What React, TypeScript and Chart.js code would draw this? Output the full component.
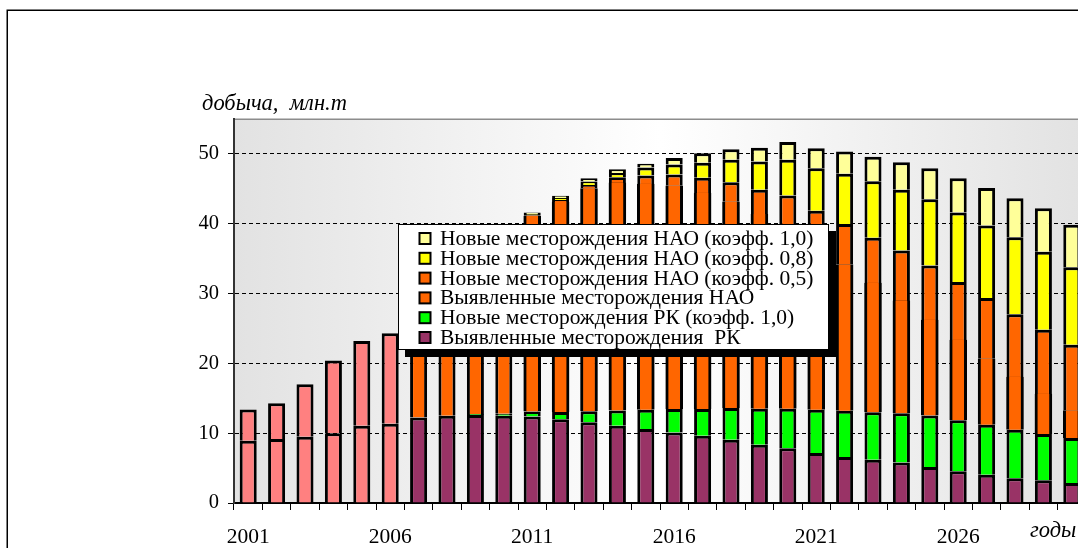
import { useEffect, useRef } from 'react';
import { Chart, registerables } from 'chart.js';

Chart.register(...registerables);

// ---------- data ----------
const years = [
  '2001', '2002', '2003', '2004', '2005', '2006', '2007', '2008', '2009', '2010',
  '2011', '2012', '2013', '2014', '2015', '2016', '2017', '2018', '2019', '2020',
  '2021', '2022', '2023', '2024', '2025', '2026', '2027', '2028', '2029', '2030',
];
const lastHistoricYear = '2006';

// Выявленные месторождения РК
const rkFound = [
  8.9, 9.15, 9.5, 10.0, 11.05, 11.35, 12.25, 12.5, 12.6, 12.5,
  12.4, 12.0, 11.55, 11.05, 10.6, 10.1, 9.65, 9.05, 8.35, 7.85,
  7.15, 6.6, 6.2, 5.8, 5.15, 4.55, 4.05, 3.55, 3.25, 2.85,
];
// Новые месторождения РК (коэфф. 1,0)
const rkNew = [
  0, 0, 0, 0, 0, 0, 0, 0, 0.15, 0.3,
  0.7, 1.05, 1.6, 2.2, 2.75, 3.35, 3.8, 4.55, 5.15, 5.65,
  6.2, 6.6, 6.8, 7.05, 7.4, 7.3, 7.15, 6.95, 6.65, 6.45,
];
// Выявленные месторождения НАО
const naoFound = [
  4.5, 5.15, 7.5, 10.4, 12.15, 12.95, 15.25, 18.3, 21.45, 25.0,
  28.0, 30.05, 31.9, 32.6, 32.35, 32.0, 30.95, 29.55, 27.85, 26.35,
  23.5, 20.95, 18.5, 16.1, 13.65, 11.5, 9.45, 7.55, 5.7, 3.95,
];
// Новые месторождения НАО (коэфф. 0,5)
const naoNew05 = [
  0, 0, 0, 0, 0, 0, 0, 0, 0, 0,
  0.1, 0.3, 0.5, 0.8, 1.2, 1.6, 2.2, 2.8, 3.5, 4.2,
  5.0, 5.8, 6.5, 7.2, 7.8, 8.3, 8.7, 9.0, 9.2, 9.4,
];
// Новые месторождения НАО (коэфф. 0,8)
const naoNew08 = [
  0, 0, 0, 0, 0, 0, 0, 0, 0, 0,
  0.2, 0.3, 0.5, 0.6, 1.15, 1.45, 2.15, 3.2, 4.05, 5.1,
  6.1, 7.2, 8.1, 8.7, 9.5, 9.95, 10.4, 11.0, 11.2, 11.1,
];
// Новые месторождения НАО (коэфф. 1,0)
const naoNew10 = [
  0, 0, 0, 0, 0, 0, 0, 0, 0, 0,
  0.2, 0.3, 0.45, 0.55, 0.55, 0.9, 1.35, 1.5, 2.0, 2.55,
  2.85, 3.2, 3.5, 3.95, 4.45, 4.9, 5.35, 5.6, 6.2, 6.1,
];

const yTickValues = [0, 10, 20, 30, 40, 50];
const yMax = 55;
const xLabelStep = 5;

const yTitle = 'добыча,  млн.т';
const xTitle = 'годы';

const seriesLabels = [
  'Выявленные месторождения  РК',
  'Новые месторождения РК (коэфф. 1,0)',
  'Выявленные месторождения НАО',
  'Новые месторождения НАО (коэфф. 0,5)',
  'Новые месторождения НАО (коэфф. 0,8)',
  'Новые месторождения НАО (коэфф. 1,0)',
];

// ---------- styles ----------
const COLORS = {
  purple: '#993366',
  green: '#00FF00',
  orange: '#FF6600',
  yellow: '#FFFF00',
  lightYellow: '#FFFF99',
  history: '#FF8080',
};
const SERIF = "'Liberation Serif', 'Times New Roman', serif";
const BW = 3;

const CANVAS_W = 1120;
const CANVAS_H = 560;
const AREA = { left: 234, top: 119, right: 1086, bottom: 503 };

const isHistory = (i: number) => Number(years[i]) <= Number(lastHistoricYear);

const legendColors = [
  COLORS.purple,
  COLORS.green,
  COLORS.orange,
  COLORS.orange,
  COLORS.yellow,
  COLORS.lightYellow,
];

const decorPlugin = {
  id: 'decor',
  beforeDraw(chart: any) {
    const { ctx, chartArea } = chart;
    ctx.save();
    ctx.fillStyle = '#ffffff';
    ctx.fillRect(0, 0, chart.width, chart.height);
    // outer frame
    ctx.strokeStyle = '#000';
    ctx.lineWidth = 1.5;
    ctx.strokeRect(7.25, 10.25, chart.width, chart.height);
    // plot background gradient
    const g = ctx.createLinearGradient(chartArea.left, 0, chartArea.right, 0);
    g.addColorStop(0, '#e2e2e2');
    g.addColorStop(0.5, '#ffffff');
    g.addColorStop(1, '#e2e2e2');
    ctx.fillStyle = g;
    ctx.fillRect(chartArea.left, chartArea.top, chartArea.right - chartArea.left, chartArea.bottom - chartArea.top);
    // plot top border
    ctx.strokeStyle = '#8c8c8c';
    ctx.lineWidth = 1.5;
    ctx.beginPath();
    ctx.moveTo(chartArea.left, chartArea.top + 0.25);
    ctx.lineTo(chartArea.right, chartArea.top + 0.25);
    ctx.stroke();
    ctx.restore();
  },
  afterDraw(chart: any) {
    const { ctx } = chart;
    ctx.save();
    // y title with white box
    ctx.font = `italic 22.5px ${SERIF}`;
    const tw = ctx.measureText(yTitle).width;
    ctx.fillStyle = '#fff';
    ctx.fillRect(198, 88, tw + 8, 30);
    ctx.fillStyle = '#000';
    ctx.textBaseline = 'alphabetic';
    ctx.textAlign = 'left';
    ctx.fillText(yTitle, 202, 110);
    // x title
    ctx.fillText(xTitle, 1030, 537);

    // legend box
    const lx = 398, ly = 224, lw = 431, lh = 126;
    ctx.fillStyle = '#000';
    ctx.fillRect(lx + 7, ly + 7, lw, lh);
    ctx.fillStyle = '#fff';
    ctx.fillRect(lx, ly, lw, lh);
    ctx.strokeStyle = '#000';
    ctx.lineWidth = 1;
    ctx.strokeRect(lx + 0.5, ly + 0.5, lw - 1, lh - 1);
    ctx.font = `21.5px ${SERIF}`;
    const ds = chart.data.datasets;
    for (let k = 0; k < ds.length; k++) {
      const idx = ds.length - 1 - k;
      const base = 245 + k * 19.8;
      ctx.fillStyle = '#000';
      ctx.fillRect(418.5, base - 13, 13, 13);
      ctx.fillStyle = legendColors[idx];
      ctx.fillRect(420.5, base - 11, 9, 9);
      ctx.fillStyle = '#000';
      ctx.fillText(ds[idx].label, 440, base);
    }
    ctx.restore();
  },
};

export default function App() {
  const ref = useRef<HTMLCanvasElement>(null);

  useEffect(() => {
    const canvas = ref.current;
    if (!canvas) return;
    Chart.defaults.font.family = SERIF;
    Chart.defaults.color = '#000';

    const bar = (label: string, data: number[], color: any, borderWidth: any, extra: any = {}) => ({
      label,
      data,
      backgroundColor: color,
      borderColor: '#000',
      borderWidth,
      stack: 's',
      categoryPercentage: 1,
      barPercentage: 0.6,
      ...extra,
    });

    const plainBorder = { top: BW, left: BW, right: BW, bottom: 0 };
    const mergesAbove = (i: number) => naoNew05[i] > 0;

    const chart = new Chart(canvas, {
      type: 'bar',
      data: {
        labels: years,
        datasets: [
          bar(seriesLabels[0], rkFound, (c: any) => (isHistory(c.dataIndex) ? COLORS.history : COLORS.purple), plainBorder),
          bar(seriesLabels[1], rkNew, COLORS.green, plainBorder),
          bar(
            seriesLabels[2],
            naoFound,
            (c: any) => (isHistory(c.dataIndex) ? COLORS.history : COLORS.orange),
            (c: any) => ({ top: mergesAbove(c.dataIndex) ? 0.01 : BW, left: BW, right: BW, bottom: 0 }),
            { inflateAmount: (c: any) => (mergesAbove(c.dataIndex) ? 0.3 : 0) }
          ),
          bar(seriesLabels[3], naoNew05, COLORS.orange, plainBorder),
          bar(seriesLabels[4], naoNew08, COLORS.yellow, plainBorder),
          bar(seriesLabels[5], naoNew10, COLORS.lightYellow, plainBorder),
        ],
      },
      options: {
        responsive: false,
        animation: false,
        devicePixelRatio: 1,
        layout: {
          padding: { left: 0, top: AREA.top, right: CANVAS_W - AREA.right, bottom: 0 },
        },
        plugins: {
          legend: { display: false },
          tooltip: { enabled: false },
          title: { display: false },
        },
        scales: {
          x: {
            type: 'category',
            stacked: true,
            offset: true,
            afterFit: (axis: any) => {
              axis.height = CANVAS_H - AREA.bottom;
            },
            grid: {
              display: true,
              offset: true,
              drawOnChartArea: false,
              drawTicks: true,
              tickLength: 7,
              color: '#000',
              lineWidth: 1,
            },
            border: { display: true, color: '#000', width: 2 },
            ticks: {
              autoSkip: false,
              maxRotation: 0,
              minRotation: 0,
              padding: 14,
              font: { size: 21.5, family: SERIF },
              color: '#000',
              callback: (_v: any, i: number) => (i % xLabelStep === 0 ? years[i] : ''),
            },
          },
          y: {
            type: 'linear',
            stacked: true,
            min: 0,
            max: yMax,
            afterFit: (axis: any) => {
              axis.width = AREA.left;
            },
            afterBuildTicks: (axis: any) => {
              axis.ticks = yTickValues.map((v) => ({ value: v }));
            },
            grid: {
              display: true,
              drawOnChartArea: true,
              drawTicks: true,
              tickLength: 6,
              color: '#000',
              lineWidth: 1,
              tickColor: '#000',
              tickBorderDash: [],
            },
            border: { display: true, color: '#333', width: 2, dash: [] },
            ticks: {
              padding: 9,
              font: { size: 20.5, family: SERIF },
              color: '#000',
            },
          },
        },
      } as any,
      plugins: [decorPlugin],
    });

    // dashed grid lines
    (chart.options.scales as any).y.grid.borderDash = [4, 3];
    (chart.options.scales as any).y.border.dash = [4, 3];
    chart.update();

    return () => chart.destroy();
  }, []);

  return (
    <div
      style={{
        position: 'fixed',
        left: 0,
        top: 0,
        width: 1078,
        height: 548,
        overflow: 'hidden',
        background: '#fff',
      }}
    >
      <canvas ref={ref} width={CANVAS_W} height={CANVAS_H} style={{ width: CANVAS_W, height: CANVAS_H, display: 'block' }} />
    </div>
  );
}
